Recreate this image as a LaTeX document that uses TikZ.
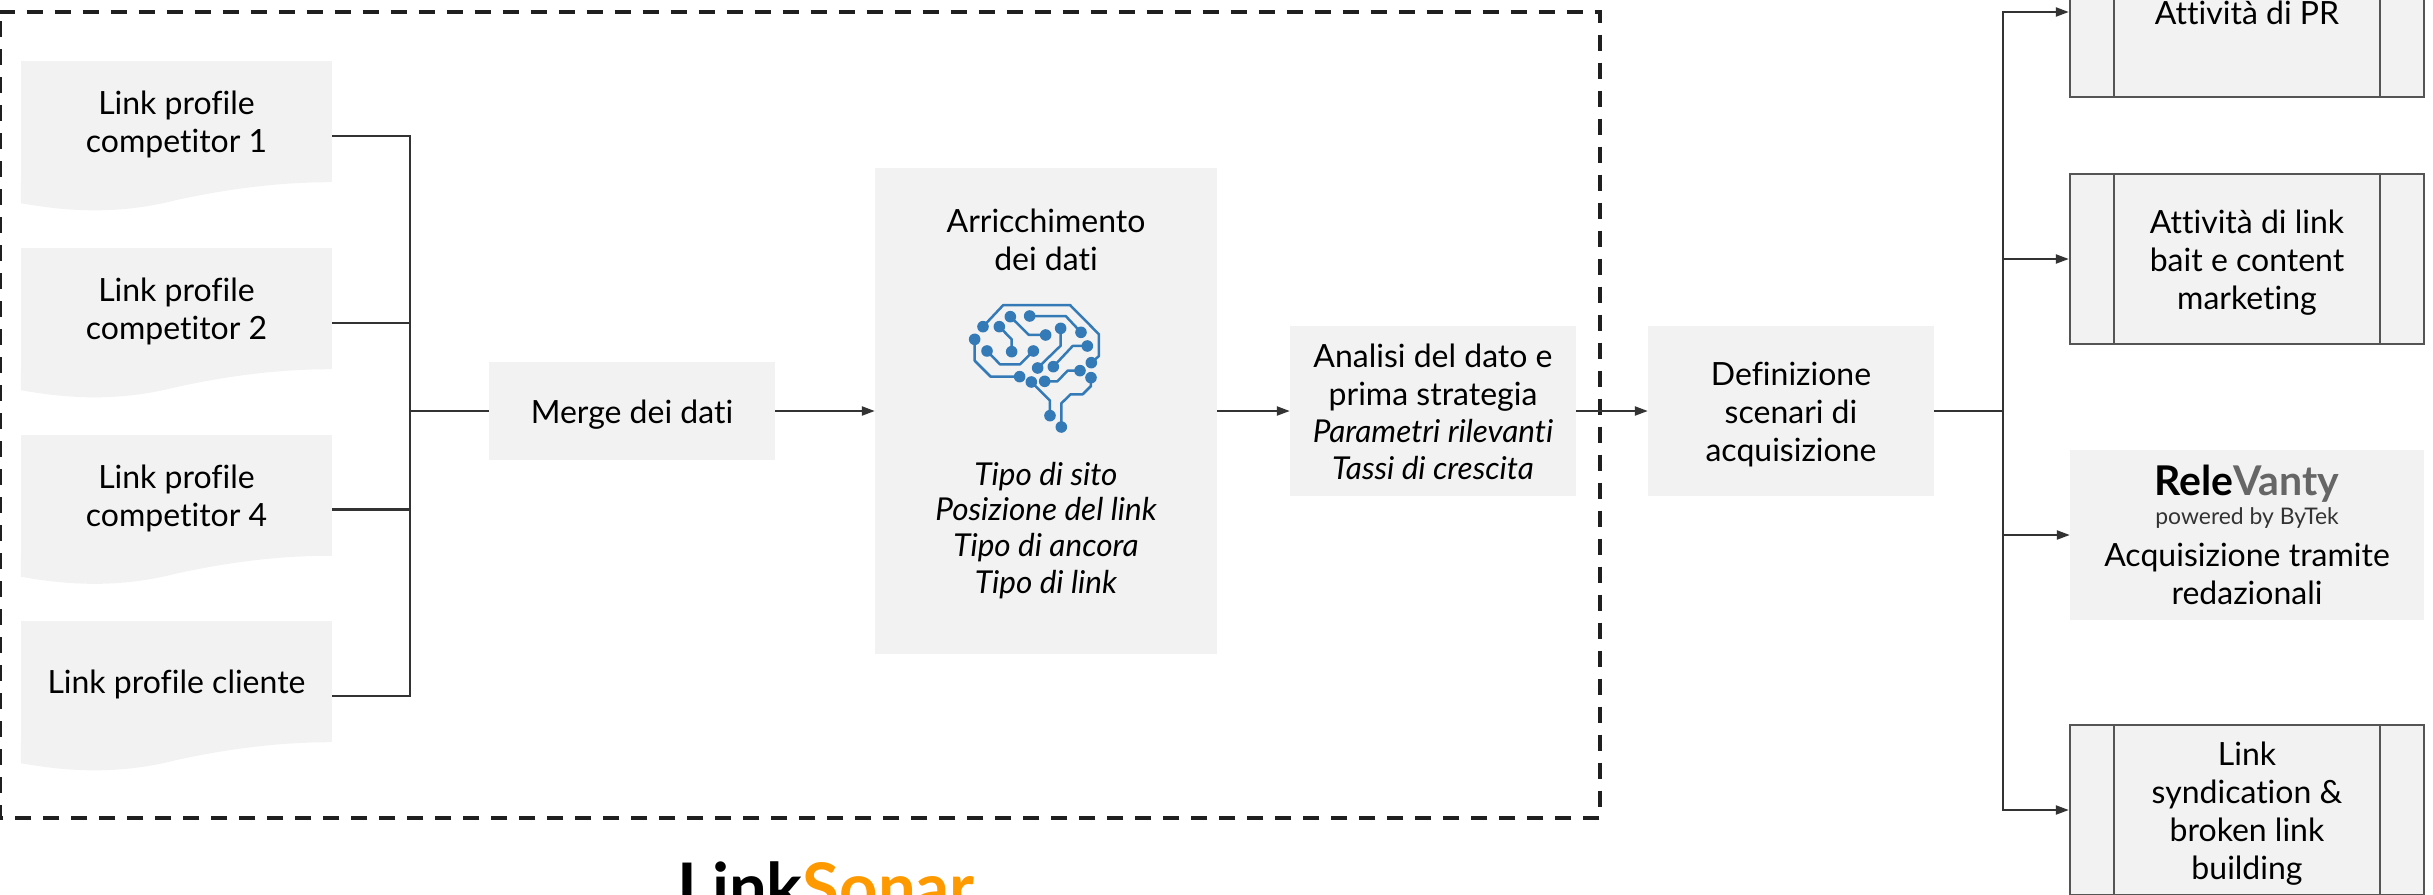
\documentclass[tikz,border=0pt]{standalone}
\usepackage{fontspec}
\setmainfont{Lato}[Ligatures=CommonOff]
\usetikzlibrary{arrows.meta,calc}
\definecolor{boxfill}{HTML}{F2F2F2}
\definecolor{linecol}{HTML}{333333}
\definecolor{framecol}{HTML}{555555}
\definecolor{brainblue}{HTML}{337AB7}
\definecolor{sonar}{HTML}{FF9900}
\definecolor{vanty}{HTML}{666666}
\newcommand{\bodyfont}{\fontsize{32}{38}\selectfont}
\newcommand{\italfont}{\fontsize{31.5}{35.3}\selectfont\itshape}
\newcommand{\st}{\rule[-7pt]{0pt}{38pt}}
\tikzset{
  x=1pt,y=-1pt,
  every node/.style={font=\bodyfont,align=center,inner sep=0pt,text=black},
  plainbox/.style={fill=boxfill,minimum width=#1},
  docbox/.style={fill=boxfill,minimum width=311pt,minimum height=121pt},
  subbox/.style={fill=boxfill,draw=framecol,line width=2.4pt,minimum width=354pt,minimum height=170pt},
  conn/.style={draw=linecol,line width=2.2pt},
  arr/.style={conn,-{Triangle[length=13pt,width=9pt]}},
  frame/.style={draw=black!88,line width=4.2pt,dash pattern=on 16.3pt off 11.7pt,dash phase=1.3pt},
  wire/.style={draw=brainblue,line width=2.5pt,line join=round},
}
\begin{document}
\begin{tikzpicture}
\useasboundingbox (0,0) rectangle (2433,894);
\clip (0,0) rectangle (2433,894);
% frame
\draw[frame] (0,12) -- (1600,12) -- (1600,818) -- (0,818) -- cycle;
% document boxes
\foreach \n/\cy/\t in {d1/121.5/{\st Link profile\\competitor 1\st},d2/308.5/{\st Link profile\\competitor 2\st},d3/495/{\st Link profile\\competitor 4\st},d4/681.5/{\st Link profile cliente\st}}{
  \node[docbox] (\n) at (176.5,\cy) {\t};
  \fill[boxfill,shift={(\n.south west)}] (0,0) -- (0,21) .. controls (50,30) and (100,32) .. (155,18)
     .. controls (210,6) and (260,0) .. (311,0) -- cycle;
  \coordinate (\n out) at ($(\n.east)+(0,14.5)$);
}
% main boxes
\node[plainbox=286pt,minimum height=98pt] (merge) at (632,411) {\st Merge dei dati\st};
\node[plainbox=342pt,minimum height=486pt] (enrich) at (1046,411) {};
\node[plainbox=286pt,minimum height=170pt] (analysis) at (1433,411) {\st Analisi del dato e\\prima strategia\\[-1pt]\italfont Parametri rilevanti\\[-1pt]\italfont Tassi di crescita\st};
\node[plainbox=286pt,minimum height=170pt] (scen) at (1791,411) {\st Definizione\\scenari di\\acquisizione\st};
\node (enrichtitle) at (1046,239) {\st Arricchimento\\dei dati\st};
\node[font=\italfont] (enrichlist) at (1046,527.5) {\st Tipo di sito\\Posizione del link\\Tipo di ancora\\Tipo di link\st};
% output boxes
\node[subbox] (pr) at (2247,12) {\st Attività di PR\st};
\node[subbox] (bait) at (2247,259) {\st Attività di link\\bait e content\\marketing\st};
\node[plainbox=354pt,minimum height=170pt] (rv) at (2247,535) {};
\node[anchor=base] (rvlogo) at (2247,495) {\fontsize{41}{41}\selectfont\bfseries Rele\textcolor{vanty}{Vanty}};
\node[anchor=base,font=\fontsize{22.9}{26}\selectfont,text=black!80] (rvsub) at (2247,524) {powered by ByTek};
\node (rvtext) at (2247,573) {\st Acquisizione tramite\\redazionali\st};
\node[subbox] (synd) at (2247,810) {\st Link\\syndication \&\\broken link\\building\st};
\foreach \b in {pr,bait,synd}{
  \draw[draw=framecol,line width=2.4pt] ($(\b.north west)+(45,0)$) -- ($(\b.south west)+(45,0)$);
  \draw[draw=framecol,line width=2.4pt] ($(\b.north east)+(-45,0)$) -- ($(\b.south east)+(-45,0)$);
}
% title
\node[anchor=base,font=\fontsize{67}{67}\selectfont\bfseries] (logo) at (826,911) {Link\textcolor{sonar}{Sonar}};
% connectors
\coordinate (spineA) at (410,411);
\coordinate (spineB) at (2003,411);
\foreach \n in {d1,d2,d3,d4}{
  \draw[conn] (\n out) -| (spineA);
}
\draw[conn] (spineA) -- (merge.west);
\draw[arr] (merge.east) -- (enrich.west);
\draw[arr] (enrich.east) -- (analysis.west);
\draw[arr] (analysis.east) -- (scen.west);
\draw[conn] (scen.east) -- (spineB);
\foreach \b in {pr,bait,rv,synd}{
  \draw[arr] (spineB) |- (\b.west);
}
% brain icon
\begin{scope}[shift={(900,280)},x=0.3333pt,y=-0.3333pt]
  \foreach \p in {
    {(249,140) -- (310,75) -- (510,75) -- (597,163) -- (597,228) -- (574,248)},
    {(224,178) -- (224,242) -- (272,290) -- (359,290)},
    {(261,213) -- (300,253) -- (360,253) -- (400,213)},
    {(298,140) -- (335,178) -- (335,215)},
    {(331,110) -- (387,165) -- (437,165)},
    {(389,108) -- (497,108) -- (543,157)},
    {(482,145) -- (482,197) -- (413,264)},
    {(460,260) -- (518,198) -- (562,198)},
    {(434,304) -- (472,304) -- (503,272) -- (540,272)},
    {(394,306) -- (450,362) -- (450,407)},
    {(484,441) -- (484,370) -- (512,343) -- (548,343) -- (573,318) -- (573,293)}}{
    \draw[wire] \p;
  }
  \foreach \c in {(249,140),(574,248),(224,178),(359,290),(261,213),(400,213),(298,140),(335,215),(331,110),(437,165),(389,108),(543,157),(482,145),(413,264),(460,260),(562,198),(434,304),(540,272),(394,306),(450,407),(484,441),(573,293)}{
    \fill[brainblue] \c circle[radius=5.8pt];
  }
\end{scope}
\end{tikzpicture}
\end{document}
